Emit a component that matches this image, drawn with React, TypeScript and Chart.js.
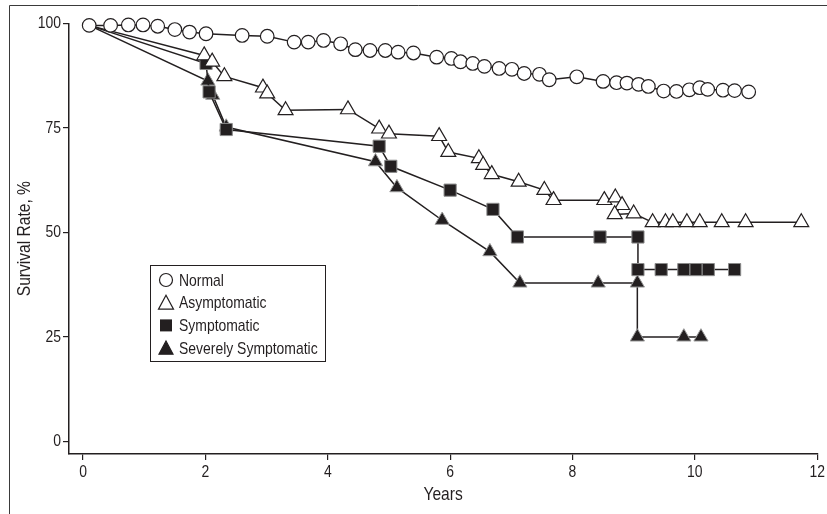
import React, { useEffect, useRef } from "react";
import { Chart, registerables } from "chart.js";

Chart.register(...registerables);

// ---- Data ----
const normalYears = [0.10, 0.45, 0.74, 0.98, 1.22, 1.50, 1.74, 2.01, 2.60, 3.01, 3.45, 3.68, 3.93, 4.21, 4.45, 4.69, 4.94, 5.15, 5.40, 5.78, 6.02, 6.17, 6.37, 6.56, 6.80, 7.01, 7.21, 7.46, 7.62, 8.07, 8.50, 8.72, 8.89, 9.08, 9.24, 9.49, 9.70, 9.91, 10.08, 10.21, 10.46, 10.65, 10.88];
const normalSurvival = [99.5, 99.5, 99.6, 99.6, 99.3, 98.5, 97.9, 97.5, 97.1, 96.9, 95.5, 95.5, 95.9, 95.1, 93.7, 93.5, 93.5, 93.1, 92.9, 91.9, 91.6, 90.8, 90.4, 89.7, 89.2, 89.0, 88.0, 87.8, 86.5, 87.2, 86.1, 85.8, 85.7, 85.4, 84.9, 83.8, 83.7, 84.1, 84.6, 84.2, 84.0, 83.9, 83.6];

const asymYears = [0.10, 1.98, 2.11, 2.31, 2.94, 3.01, 3.31, 4.33, 4.84, 5.00, 5.82, 5.97, 6.47, 6.54, 6.68, 7.12, 7.54, 7.69, 8.52, 8.70, 8.81, 8.69, 9.00, 9.31, 9.52, 9.64, 9.87, 10.08, 10.44, 10.83, 11.74];
const asymSurvival = [99.5, 92.3, 90.8, 87.3, 84.6, 83.2, 79.2, 79.4, 74.8, 73.6, 73.0, 69.2, 67.7, 66.1, 63.9, 62.1, 60.1, 57.7, 57.7, 58.3, 56.5, 54.3, 54.5, 52.4, 52.4, 52.4, 52.4, 52.4, 52.4, 52.4, 52.4];

const sympYears = [0.10, 2.01, 2.06, 2.34, 4.84, 5.03, 6.00, 6.70, 7.10, 8.45, 9.07, 9.07, 9.45, 9.82, 10.02, 10.22, 10.65];
const sympSurvival = [99.5, 90.4, 83.6, 74.6, 70.6, 65.8, 60.1, 55.5, 48.9, 48.9, 48.9, 41.1, 41.1, 41.1, 41.1, 41.1, 41.1];

const severeYears = [0.10, 2.04, 2.12, 2.34, 4.78, 5.13, 5.87, 6.65, 7.14, 8.42, 9.06, 9.06, 9.82, 10.10];
const severeSurvival = [99.5, 86.2, 82.8, 75.2, 66.9, 60.7, 52.9, 45.4, 37.9, 37.9, 37.9, 25.0, 25.0, 25.0];

const seriesLabels = ["Normal", "Asymptomatic", "Symptomatic", "Severely Symptomatic"];
const xTicks = [0, 2, 4, 6, 8, 10, 12];
const yTicks = [0, 25, 50, 75, 100];
const xTitle = "Years";
const yTitle = "Survival Rate, %";

const FONT = "'Liberation Sans', Arial, sans-serif";
const NARROW = 0.82; // horizontal condensing of all text (narrow sans look)
const INK = "#231f20";

const toPoints = (xs: number[], ys: number[]) => xs.map((x, i) => ({ x, y: ys[i] }));

const framePlugin = {
  id: "frame",
  beforeDraw(chart: any) {
    const ctx = chart.ctx;
    if (!ctx.__narrowPatched) {
      const orig = ctx.fillText.bind(ctx);
      ctx.fillText = (text: string, x: number, y: number, maxWidth?: number) => {
        ctx.save();
        ctx.translate(x, y);
        ctx.scale(NARROW, 1);
        if (maxWidth !== undefined) orig(text, 0, 0, maxWidth / NARROW);
        else orig(text, 0, 0);
        ctx.restore();
      };
      ctx.__narrowPatched = true;
    }
    ctx.save();
    ctx.fillStyle = "#ffffff";
    ctx.fillRect(0, 0, chart.width, chart.height);
    ctx.strokeStyle = "#3a3a3a";
    ctx.lineWidth = 1;
    ctx.beginPath();
    ctx.moveTo(9.5, chart.height);
    ctx.lineTo(9.5, 5.5);
    ctx.lineTo(chart.width, 5.5);
    ctx.stroke();
    ctx.restore();
  },
};

function drawTri(ctx: CanvasRenderingContext2D, x: number, y: number, s: number, fill: string, stroke: string) {
  const h = s * 0.866;
  ctx.beginPath();
  ctx.moveTo(x, y - h / 2 - 1);
  ctx.lineTo(x + s / 2, y + h / 2);
  ctx.lineTo(x - s / 2, y + h / 2);
  ctx.closePath();
  ctx.fillStyle = fill;
  ctx.fill();
  ctx.strokeStyle = stroke;
  ctx.lineWidth = 1.2;
  ctx.stroke();
}

const legendPlugin = {
  id: "boxLegend",
  afterDraw(chart: any) {
    const ctx: CanvasRenderingContext2D = chart.ctx;
    ctx.save();
    ctx.strokeStyle = INK;
    ctx.lineWidth = 1;
    ctx.strokeRect(150.5, 265.5, 175, 96);
    ctx.font = `17px ${FONT}`;
    ctx.textBaseline = "middle";
    ctx.textAlign = "left";
    seriesLabels.forEach((label, i) => {
      const y = 280 + i * 22.7;
      const x = 166;
      if (i === 0) {
        ctx.beginPath();
        ctx.arc(x, y, 6.5, 0, Math.PI * 2);
        ctx.fillStyle = "#fff";
        ctx.fill();
        ctx.strokeStyle = INK;
        ctx.lineWidth = 1.2;
        ctx.stroke();
      } else if (i === 1) {
        drawTri(ctx, x, y, 15, "#fff", INK);
      } else if (i === 2) {
        ctx.fillStyle = INK;
        ctx.fillRect(x - 6, y - 6, 12, 12);
      } else {
        drawTri(ctx, x, y, 14, INK, INK);
      }
      ctx.fillStyle = INK;
      ctx.fillText(label, 179, y + 1);
    });
    ctx.restore();
  },
};

export default function App() {
  const ref = useRef<HTMLCanvasElement | null>(null);

  useEffect(() => {
    if (!ref.current) return;
    const hideFirst = (r: number) => (c: any) => (c.dataIndex === 0 ? 0 : r);
    const common = {
      showLine: true,
      borderColor: INK,
      borderWidth: 1.5,
      tension: 0,
      clip: false as any,
      pointHoverRadius: 0,
    };
    const chart = new Chart(ref.current, {
      type: "scatter",
      data: {
        datasets: [
          {
            ...common,
            label: seriesLabels[0],
            data: toPoints(normalYears, normalSurvival),
            pointStyle: "circle",
            pointRadius: 6.8,
            pointBackgroundColor: "#ffffff",
            pointBorderColor: INK,
            pointBorderWidth: 1.2,
            order: 0,
          },
          {
            ...common,
            label: seriesLabels[1],
            data: toPoints(asymYears, asymSurvival),
            pointStyle: "triangle",
            pointRadius: hideFirst(8.6),
            pointBackgroundColor: "#ffffff",
            pointBorderColor: INK,
            pointBorderWidth: 1.2,
            order: 1,
          },
          {
            ...common,
            label: seriesLabels[2],
            data: toPoints(sympYears, sympSurvival),
            pointStyle: "rect",
            pointRadius: hideFirst(8.6),
            pointBackgroundColor: INK,
            pointBorderColor: "#8a8a8a",
            pointBorderWidth: 1,
            order: 2,
          },
          {
            ...common,
            label: seriesLabels[3],
            data: toPoints(severeYears, severeSurvival),
            pointStyle: "triangle",
            pointRadius: hideFirst(8.2),
            pointBackgroundColor: INK,
            pointBorderColor: "#9a9a9a",
            pointBorderWidth: 1,
            order: 3,
          },
        ],
      },
      options: {
        responsive: false,
        animation: false,
        events: [],
        layout: { padding: { left: 0, top: 23.3, right: 6, bottom: 7.6 } },
        plugins: {
          legend: { display: false },
          tooltip: { enabled: false },
        },
        scales: {
          x: {
            type: "linear",
            min: -0.23,
            max: 12,
            afterBuildTicks: (s: any) => {
              s.ticks = xTicks.map((v) => ({ value: v }));
            },
            afterFit: (s: any) => {
              s.height = 52.4;
              s.paddingLeft = 0;
              s.paddingRight = 0;
            },
            grid: { display: true, drawOnChartArea: false, drawTicks: true, tickLength: 6, color: INK, lineWidth: 1.2 },
            border: { display: true, color: INK, width: 1.5 },
            ticks: { color: INK, padding: 2, maxRotation: 0, font: { family: FONT, size: 17 } },
            title: { display: true, text: xTitle, color: INK, padding: { top: 0, bottom: 0 }, font: { family: FONT, size: 19 } },
          },
          y: {
            type: "linear",
            min: -3,
            max: 100,
            afterBuildTicks: (s: any) => {
              s.ticks = yTicks.map((v) => ({ value: v }));
            },
            afterFit: (s: any) => {
              s.width = 69;
              s.paddingTop = 0;
              s.paddingBottom = 0;
            },
            grid: { display: true, drawOnChartArea: false, drawTicks: true, tickLength: 6, color: INK, lineWidth: 1.2 },
            border: { display: true, color: INK, width: 1.5 },
            ticks: { color: INK, padding: 2, font: { family: FONT, size: 17 } },
            title: { display: true, text: yTitle, color: INK, padding: { top: 13.6, bottom: 0 }, font: { family: FONT, size: 19 } },
          },
        },
      },
      plugins: [framePlugin, legendPlugin],
    });
    return () => chart.destroy();
  }, []);

  return (
    <div style={{ position: "absolute", left: 0, top: 0, width: 827, height: 514, background: "#fff" }}>
      <canvas ref={ref} width={827} height={514} style={{ display: "block", width: 827, height: 514 }} />
    </div>
  );
}
